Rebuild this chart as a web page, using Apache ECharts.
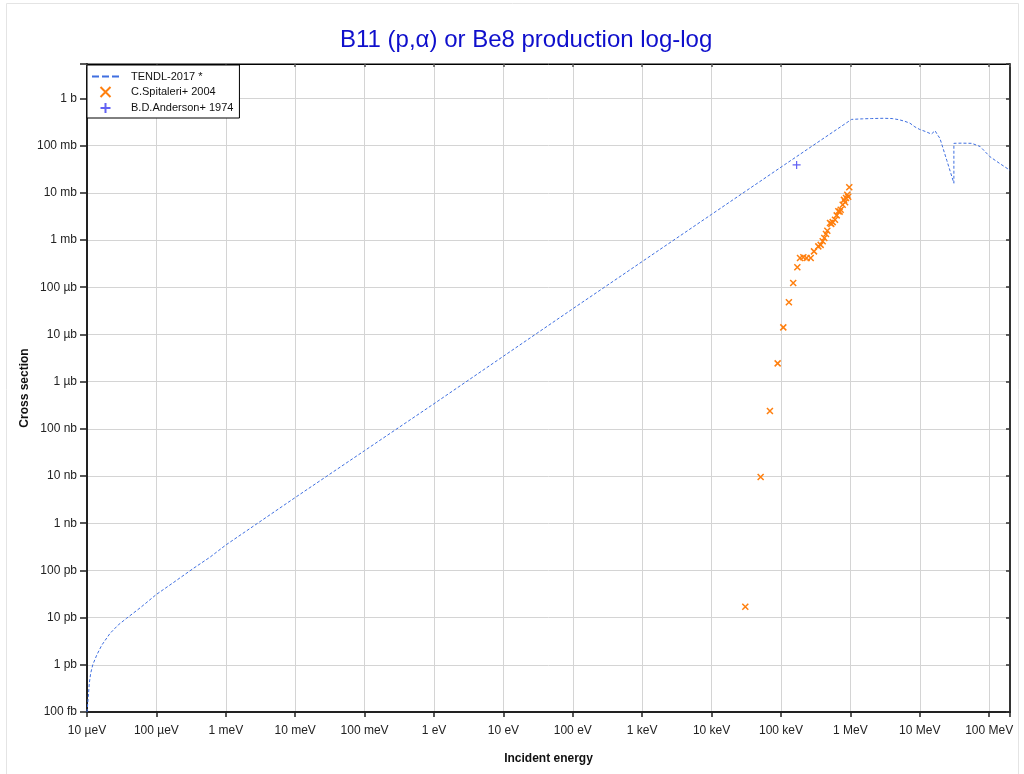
<!DOCTYPE html>
<html>
<head>
<meta charset="utf-8">
<script src="https://cdn.jsdelivr.net/npm/echarts@6/dist/echarts.min.js"></script>
<style>
html,body{margin:0;padding:0;background:#fff;}
#chart{width:1024px;height:774px;}
</style>
</head>
<body>
<div id="chart"></div>
<script>
// Tick labels (decade exponents -> text)
const xTickExps = [-5,-4,-3,-2,-1,0,1,2,3,4,5,6,7,8];
const xTickLabels = ['10 µeV','100 µeV','1 meV','10 meV','100 meV','1 eV','10 eV','100 eV','1 keV','10 keV','100 keV','1 MeV','10 MeV','100 MeV'];
const yTickExps = [-13,-12,-11,-10,-9,-8,-7,-6,-5,-4,-3,-2,-1,0];
const yTickLabels = ['100 fb','1 pb','10 pb','100 pb','1 nb','10 nb','100 nb','1 µb','10 µb','100 µb','1 mb','10 mb','100 mb','1 b'];

// TENDL-2017 evaluation (energy in eV, cross section in b)
const tendlEnergy = [1.0e-5,1.044e-5,1.08e-5,1.13e-5,1.21e-5,1.38e-5,1.63e-5,2.14e-5,2.82e-5,3.73e-5,5.8e-5,1.0e-4,1.75e-4,3.4e-4,5.9e-4,1.0e-3,1.0e-2,1.0e-1,1.0,10,100,1.0e3,1.0e4,1.0e5,1.04e6,1.5e6,2.0e6,3.0e6,4.0e6,5.0e6,6.0e6,7.2e6,8.5e6,1.0e7,1.2e7,1.47e7,1.66e7,1.8e7,1.95e7,2.46e7,3.1e7,3.1e7,4.0e7,5.6e7,7.4e7,1.03e8,1.45e8,2.0e8];
const tendlXS = [1.0e-13,2.1e-13,4.1e-13,6.6e-13,1.0e-12,1.6e-12,2.6e-12,4.6e-12,7.0e-12,9.7e-12,1.6e-11,3.1e-11,5.5e-11,1.1e-10,1.9e-10,3.45e-10,3.5e-9,3.45e-8,3.4e-7,3.45e-6,3.5e-5,3.5e-4,3.5e-3,3.5e-2,0.36,0.37,0.375,0.38,0.375,0.355,0.33,0.30,0.25,0.22,0.20,0.176,0.207,0.17,0.143,0.048,0.016,0.112,0.113,0.112,0.096,0.058,0.041,0.030];

// C.Spitaleri+ 2004
const spitaleriEnergy = [3.06e4,5.09e4,6.93e4,8.95e4,1.08e5,1.30e5,1.50e5,1.72e5,1.88e5,2.10e5,2.34e5,2.68e5,2.99e5,3.45e5,3.73e5,3.99e5,4.21e5,4.45e5,4.65e5,5.08e5,5.3e5,5.56e5,6.0e5,6.35e5,6.70e5,7.0e5,7.25e5,7.74e5,8.09e5,8.4e5,8.65e5,9.02e5,9.3e5,9.64e5];
const spitaleriXS = [1.7e-11,9.5e-9,2.38e-7,2.44e-6,1.41e-5,4.8e-5,1.23e-4,2.64e-4,4.16e-4,4.3e-4,4.16e-4,4.16e-4,5.75e-4,7.35e-4,7.9e-4,9.4e-4,1.10e-3,1.34e-3,1.57e-3,2.29e-3,2.2e-3,2.40e-3,2.69e-3,3.33e-3,4.06e-3,4.0e-3,4.39e-3,5.6e-3,7.1e-3,6.3e-3,7.8e-3,9.1e-3,8.3e-3,1.31e-2];

// B.D.Anderson+ 1974
const andersonEnergy = [1.68e5];
const andersonXS = [0.039];

function toLog(es, ss){ return es.map((e,i)=>[Math.log10(e), Math.log10(ss[i])]); }
function labelFor(v, exps, labels){
  const r = Math.round(v);
  if (Math.abs(v - r) > 1e-6) return '';
  const i = exps.indexOf(r);
  return i >= 0 ? labels[i] : '';
}

const X_MIN = -5, X_MAX = 8.3, Y_MIN = -13, Y_MAX = 0.73;
const font = '"Liberation Sans", Arial, sans-serif';
const dashIcon = 'path://M0,0h7v2h-7zM10,0h7v2h-7zM20,0h7v2h-7z';

const chart = echarts.init(document.getElementById('chart'), null, {renderer:'canvas'});
chart.setOption({
  animation:false,
  backgroundColor:'#ffffff',
  textStyle:{fontFamily:font},
  title:{
    text:'B11 (p,α) or Be8 production log-log',
    left:335, top:23,
    textStyle:{color:'#0f0fcc', fontSize:24, fontWeight:'normal', fontFamily:font}
  },
  graphic:[{
    type:'rect', silent:true, z:-10,
    shape:{x:6.5, y:3.5, width:1012, height:780},
    style:{fill:'none', stroke:'#e4e4e4', lineWidth:1}
  }],
  legend:{
    orient:'vertical', left:87, top:65,
    backgroundColor:'#fff',
    borderColor:'#000', borderWidth:1, borderRadius:0,
    padding:[6,6,4,5],
    itemGap:4, itemWidth:27, itemHeight:10,
    textStyle:{fontSize:11, color:'#111', fontFamily:font, padding:[0,0,0,7]},
    data:[
      {name:'TENDL-2017 *', icon:dashIcon, itemStyle:{color:'#3f6fe0'}},
      {name:'C.Spitaleri+ 2004'},
      {name:'B.D.Anderson+ 1974'}
    ]
  },
  grid:{left:87, right:14, top:64, bottom:62, show:true, borderColor:'#000', borderWidth:1},
  xAxis:[{
    type:'value', min:X_MIN, max:X_MAX, interval:1,
    name:'Incident energy', nameLocation:'middle', nameGap:41,
    nameTextStyle:{fontWeight:'bold', fontSize:12, color:'#111', fontFamily:font},
    axisLine:{show:true, onZero:false, lineStyle:{color:'#222', width:2}},
    axisTick:{show:true, length:5, lineStyle:{color:'#222', width:1.5}},
    axisLabel:{fontSize:12, color:'#222', margin:13, fontFamily:font, formatter:v=>labelFor(v,xTickExps,xTickLabels)},
    splitLine:{show:true, lineStyle:{color:'#d4d4d4', width:1}}
  },{
    type:'value', position:'top', min:X_MIN, max:X_MAX, interval:1,
    axisLine:{show:true, onZero:false, lineStyle:{color:'#000', width:1}},
    axisTick:{show:true, inside:true, length:3, lineStyle:{color:'#555', width:1.5}},
    axisLabel:{show:false}, splitLine:{show:false}
  }],
  yAxis:[{
    type:'value', min:Y_MIN, max:Y_MAX, interval:1,
    name:'Cross section', nameLocation:'middle', nameGap:56, nameMoveOverlap:false,
    nameTextStyle:{fontWeight:'bold', fontSize:12, color:'#111', fontFamily:font},
    axisLine:{show:true, onZero:false, lineStyle:{color:'#222', width:2}},
    axisTick:{show:true, length:7, lineStyle:{color:'#222', width:1.5}},
    axisLabel:{fontSize:12, color:'#222', margin:10, fontFamily:font, formatter:v=>labelFor(v,yTickExps,yTickLabels)},
    splitLine:{show:true, lineStyle:{color:'#d4d4d4', width:1}}
  },{
    type:'value', position:'right', min:Y_MIN, max:Y_MAX, interval:1,
    axisLine:{show:true, onZero:false, lineStyle:{color:'#333', width:2}},
    axisTick:{show:true, inside:true, length:4, lineStyle:{color:'#333', width:1.5}},
    axisLabel:{show:false}, splitLine:{show:false}
  }],
  series:[{
    name:'TENDL-2017 *', type:'line', xAxisIndex:0, yAxisIndex:0,
    data:toLog(tendlEnergy, tendlXS),
    symbol:'none', smooth:false,
    lineStyle:{color:'#3f6fe0', width:1, type:[3,2]},
    itemStyle:{color:'#3f6fe0'},
    z:3
  },{
    name:'C.Spitaleri+ 2004', type:'scatter', xAxisIndex:0, yAxisIndex:0,
    data:toLog(spitaleriEnergy, spitaleriXS),
    symbol:'path://M0,0L10,10M10,0L0,10', symbolSize:6,
    itemStyle:{color:'rgba(0,0,0,0)', borderColor:'#ff7f0e', borderWidth:1.5, opacity:1},
    z:4
  },{
    name:'B.D.Anderson+ 1974', type:'scatter', xAxisIndex:0, yAxisIndex:0,
    data:toLog(andersonEnergy, andersonXS),
    symbol:'path://M5,0L5,10M0,5L10,5', symbolSize:8,
    itemStyle:{color:'rgba(0,0,0,0)', borderColor:'#3b3bf0', borderWidth:1.2},
    z:4
  }]
});
</script>
</body>
</html>
